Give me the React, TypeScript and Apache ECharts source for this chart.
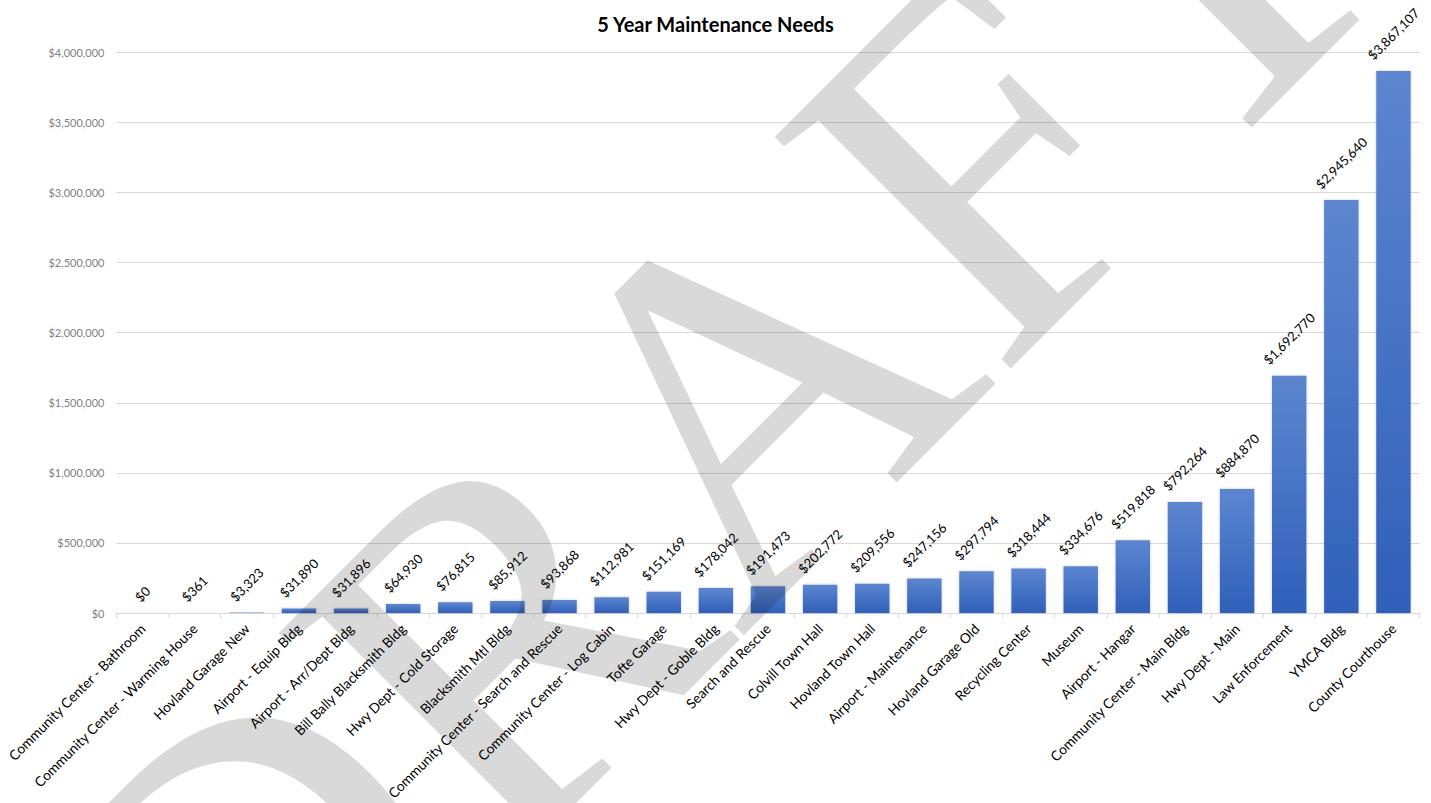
import React, { useEffect, useRef } from "react";
import * as echarts from "echarts";

const TITLE = "5 Year Maintenance Needs";
const categories = [
  "Community Center - Bathroom",
  "Community Center - Warming House",
  "Hovland Garage New",
  "Airport - Equip Bldg",
  "Airport - Arr/Dept Bldg",
  "Bill Bally Blacksmith Bldg",
  "Hwy Dept - Cold Storage",
  "Blacksmith Mtl Bldg",
  "Community Center - Search and Rescue",
  "Community Center - Log Cabin",
  "Tofte Garage",
  "Hwy Dept - Goble Bldg",
  "Search and Rescue",
  "Colvill Town Hall",
  "Hovland Town Hall",
  "Airport - Maintenance",
  "Hovland Garage Old",
  "Recycling Center",
  "Museum",
  "Airport - Hangar",
  "Community Center - Main Bldg",
  "Hwy Dept - Main",
  "Law Enforcement",
  "YMCA Bldg",
  "County Courthouse",
];
const values = [
  0, 361, 3323, 31890, 31896, 64930, 76815, 85912, 93868, 112981, 151169,
  178042, 191473, 202772, 209556, 247156, 297794, 318444, 334676, 519818,
  792264, 884870, 1692770, 2945640, 3867107,
];
const Y_MIN = 0;
const Y_MAX = 4000000;
const Y_INTERVAL = 500000;
const WATERMARK = "DRAFT";

const FONT = "Lato";
const fmt = (v: number) => "$" + Math.round(v).toLocaleString("en-US");

export default function App() {
  const ref = useRef<HTMLDivElement>(null);
  useEffect(() => {
    if (!ref.current) return;
    document.body.style.margin = "0";
    const chart = echarts.init(ref.current, undefined, { renderer: "svg" });
    const canvas = document.createElement("canvas");
    const ctx = canvas.getContext("2d")!;
    ctx.font = `13px ${FONT}`;
    const data = values.map((v) => {
      const w = ctx.measureText(fmt(v)).width;
      return { value: v, label: { distance: 8 + (w + 16) * 0.354 } };
    });
    chart.setOption({
      animation: false,
      backgroundColor: "#ffffff",
      title: {
        text: TITLE,
        left: "center",
        top: 8.5,
        textStyle: { fontFamily: FONT, fontWeight: "bold", fontSize: 20, color: "#000000" },
      },
      grid: { left: 116.5, right: 11.5, top: 52.3, bottom: 189.7, containLabel: false },
      xAxis: {
        type: "category",
        data: categories,
        axisLine: { lineStyle: { color: "#d9d9d9", width: 1 } },
        axisTick: { show: true, length: 5, alignWithLabel: false, lineStyle: { color: "#d9d9d9" } },
        axisLabel: {
          interval: 0,
          rotate: 45,
          margin: 13,
          fontFamily: FONT,
          fontSize: 13.8,
          color: "#000000",
        },
      },
      yAxis: {
        type: "value",
        min: Y_MIN,
        max: Y_MAX,
        interval: Y_INTERVAL,
        axisLine: { show: false },
        axisTick: { show: false },
        splitLine: { lineStyle: { color: "#d9d9d9", width: 1 } },
        axisLabel: {
          formatter: (v: number) => fmt(v),
          fontFamily: FONT,
          fontSize: 11,
          color: "#7f7f7f",
          margin: 12,
        },
      },
      series: [
        {
          type: "bar",
          data,
          barCategoryGap: "34%",
          itemStyle: {
            color: new echarts.graphic.LinearGradient(0, 0, 0, 1, [
              { offset: 0, color: "#5d86cf" },
              { offset: 1, color: "#2f60ba" },
            ]),
            shadowBlur: 3,
            shadowColor: "rgba(0,0,0,0.2)",
          },
          label: {
            show: true,
            position: "top",
            rotate: 45,
            align: "center",
            verticalAlign: "middle",
            formatter: (p: any) => fmt(p.value),
            fontFamily: FONT,
            fontSize: 13,
            color: "#000000",
          },
        },
      ],
      graphic: [
        {
          type: "text",
          x: 709,
          y: 429,
          rotation: Math.PI / 4,
          z: 100,
          silent: true,
          style: {
            text: WATERMARK,
            font: '505px "Liberation Serif"',
            fill: "rgba(0,0,0,0.15)",
            textAlign: "center",
            textVerticalAlign: "middle",
          },
        },
      ],
    });
    return () => chart.dispose();
  }, []);
  return (
    <div
      ref={ref}
      style={{ position: "fixed", left: 0, top: 0, width: 1431, height: 803 }}
    />
  );
}
